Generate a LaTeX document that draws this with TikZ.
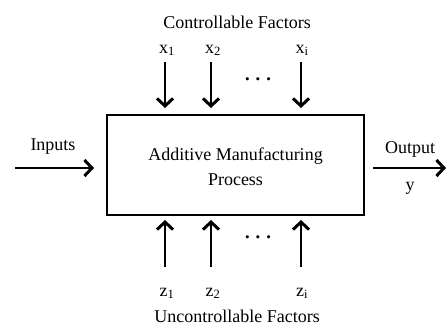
\documentclass[tikz,border=0pt]{standalone}
\usepackage{fontspec}
\setmainfont{Liberation Serif}
\usetikzlibrary{arrows.meta}
\begin{document}
\begin{tikzpicture}[x=1pt,y=-1pt,
  lbl/.style={font=\fontsize{18}{21}\selectfont, inner sep=0pt},
  sub/.style={font=\fontsize{18}{21}\selectfont, inner sep=0pt, anchor=base},
  dots/.style={font=\fontsize{22}{24}\selectfont\boldmath, inner sep=0pt},
  arr/.style={line width=1.4pt, -{Straight Barb[length=7.5pt,width=16pt,line width=3pt]}},
  pbox/.style={draw, line width=1.6pt, minimum width=257pt, minimum height=100pt, inner sep=0pt}]
\useasboundingbox (0,0) rectangle (446,325);
\node[pbox] (box) at (235.5,165) {};
\node[lbl, align=center] (txt) at (235.5,167) {Additive Manufacturing\\[4pt]Process};
% top
\node[lbl] (ctl) at (237,22) {Controllable Factors};
\node[sub] (x1) at (167,53) {x$_{\mathrm{1}}$};
\node[sub] (x2) at (213,53) {x$_{\mathrm{2}}$};
\node[sub] (xi) at (302,53) {x$_{\mathrm{i}}$};
\coordinate (x1s) at (165,62); \coordinate (x1e) at (165,108);
\coordinate (x2s) at (211,62); \coordinate (x2e) at (211,108);
\coordinate (xis) at (301,62); \coordinate (xie) at (301,108);
\draw[arr] (x1s) -- (x1e);
\draw[arr] (x2s) -- (x2e);
\draw[arr] (xis) -- (xie);
\node[dots] (dtop) at (258,80) {$\cdots$};
% bottom
\node[sub] (z1) at (167,296) {z$_{\mathrm{1}}$};
\node[sub] (z2) at (213,296) {z$_{\mathrm{2}}$};
\node[sub] (zi) at (302,296) {z$_{\mathrm{i}}$};
\coordinate (z1s) at (165,267); \coordinate (z1e) at (165,220);
\coordinate (z2s) at (211,267); \coordinate (z2e) at (211,220);
\coordinate (zis) at (301,267); \coordinate (zie) at (301,220);
\draw[arr] (z1s) -- (z1e);
\draw[arr] (z2s) -- (z2e);
\draw[arr] (zis) -- (zie);
\node[dots] (dbot) at (258,238) {$\cdots$};
\node[lbl] (unc) at (237,316) {Uncontrollable Factors};
% left/right
\node[lbl] (inp) at (53,147) {Inputs};
\coordinate (ins) at (15,168); \coordinate (ine) at (94,168);
\draw[arr] (ins) -- (ine);
\node[lbl] (out) at (410,149) {Output};
\node[lbl] (y) at (410,188) {y};
\coordinate (os) at (373,168); \coordinate (oe) at (446,168);
\draw[arr] (os) -- (oe);
\end{tikzpicture}
\end{document}
